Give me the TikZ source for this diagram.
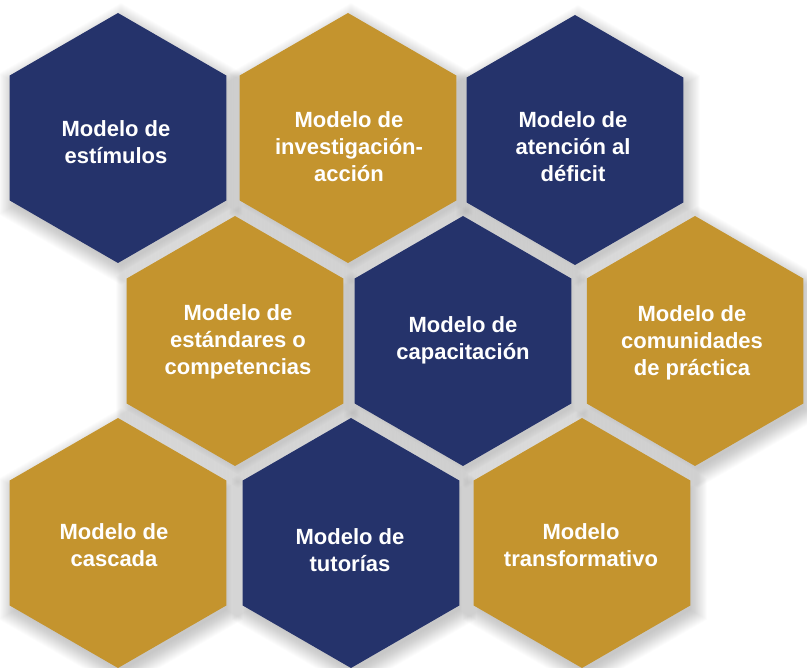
\documentclass[tikz,border=0pt]{standalone}
\usepackage{fontspec}
\setmainfont{Liberation Sans}
\definecolor{navy}{RGB}{37,51,107}
\definecolor{gold}{RGB}{196,148,46}
\tikzset{
  hexlabel/.style={text=white, font=\bfseries\fontsize{22}{27}\selectfont, align=center, inner sep=0pt},
}
\begin{document}
\begin{tikzpicture}[x=1pt, y=-1pt]
\useasboundingbox (0,0) rectangle (807,668);
% soft drop shadows under every cell
\foreach \cx/\cy in {118/138, 348/138, 575/140, 235/341, 463/341, 695/341, 118/543, 351/543, 582/543} {
  \foreach \k in {0,...,19} {
    \pgfmathsetmacro\r{122+\k}
    \fill[black, opacity=0.013, shift={(\cx+3,\cy+6)}]
      (90:\r) -- (30:\r) -- (-30:\r) -- (-90:\r) -- (-150:\r) -- (150:\r) -- cycle;
  }
}
% the hexagonal cells
\foreach \cx/\cy/\c in {118/138/navy, 348/138/gold, 575/140/navy,
                        235/341/gold, 463/341/navy, 695/341/gold,
                        118/543/gold, 351/543/navy, 582/543/gold} {
  \fill[\c, shift={(\cx,\cy)}]
    (90:125) -- (30:125) -- (-30:125) -- (-90:125) -- (-150:125) -- (150:125) -- cycle;
}
% labels
\node[hexlabel] (estimulos) at (116,142) {Modelo de\\estímulos};
\node[hexlabel] (investigacion) at (349,147) {Modelo de\\investigación-\\acción};
\node[hexlabel] (deficit) at (573,147) {Modelo de\\atención al\\déficit};
\node[hexlabel] (estandares) at (238,342) {Modelo de\\estándares o\\competencias};
\node[hexlabel] (capacitacion) at (463,340) {Modelo de\\capacitación};
\node[hexlabel] (comunidades) at (692,343) {Modelo de\\comunidades\\de práctica};
\node[hexlabel] (cascada) at (114,545) {Modelo de\\cascada};
\node[hexlabel] (tutorias) at (350,550) {Modelo de\\tutorías};
\node[hexlabel] (transformativo) at (581,545) {Modelo\\transformativo};
\end{tikzpicture}
\end{document}
